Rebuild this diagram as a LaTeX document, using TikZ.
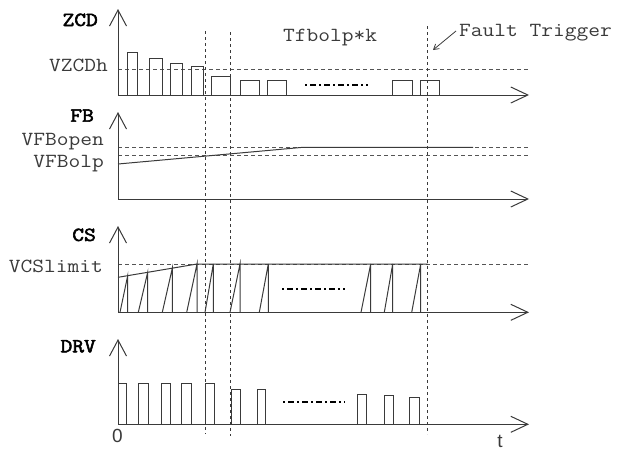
\documentclass[tikz,border=0pt]{standalone}
\usepackage{fontspec}
\newfontfamily\sansf{Liberation Sans}
\newfontfamily\ttheavy{Latin Modern Mono}[FakeBold=2.5]
\usetikzlibrary{arrows.meta}
\definecolor{ink}{HTML}{3A3A3A}
\definecolor{refc}{HTML}{555555}
\newcommand{\widetxt}[1]{\scalebox{1.14}[1]{#1}}
\tikzset{
  axisline/.style={line width=1pt, draw=ink, {Straight Barb[length=16pt,width=17pt,line width=1pt]}-{Straight Barb[length=17pt,width=16pt,line width=1pt]}},
  wave/.style={line width=1pt, draw=ink, line join=miter},
  refline/.style={line width=0.9pt, draw=refc, dash pattern=on 4pt off 3pt},
  vline/.style={line width=1.2pt, draw=ink, dash pattern=on 3pt off 3pt},
  dotline/.style={line width=2pt, draw=black, dash pattern=on 2pt off 3pt on 6pt off 3pt},
  lbl/.style={inner sep=0pt, font=\ttfamily\fontsize{20}{24}\selectfont, text=ink},
  blbl/.style={inner sep=0pt, font=\ttheavy\fontsize{20}{24}\selectfont, text=black},
  slbl/.style={inner sep=0pt, font=\sansf\fontsize{19}{22}\selectfont, text=ink},
}
\begin{document}
\begin{tikzpicture}[x=1pt,y=-1pt]
\useasboundingbox (0,0) rectangle (617,450);

% ---- axes coordinates
\coordinate (zy) at (118,9);   \coordinate (zo) at (118,95);  \coordinate (zx) at (529,95);
\coordinate (fy) at (118,112); \coordinate (fo) at (118,199); \coordinate (fx) at (529,199);
\coordinate (cy) at (118,226); \coordinate (co) at (118,312.3); \coordinate (cx) at (529,312.3);
\coordinate (dy) at (118,339); \coordinate (do) at (118,424.3); \coordinate (dx) at (529,424.3);

% ---- reference (dashed) lines
\coordinate (zh1) at (118,69);    \coordinate (zh2) at (530,69);
\coordinate (fo1) at (118,147.3); \coordinate (fo2) at (530,147.3);
\coordinate (fl1) at (118,155.7); \coordinate (fl2) at (530,155.7);
\coordinate (cl1) at (118,264);   \coordinate (cl2) at (530,264);
\draw[refline] (zh1) -- (zh2);
\draw[refline] (fo1) -- (fo2);
\draw[refline] (fl1) -- (fl2);
\draw[refline] (cl1) -- (cl2);

% ---- vertical dotted time markers
\coordinate (v1t) at (205.7,31); \coordinate (v1b) at (205.7,434);
\coordinate (v2t) at (230.7,32); \coordinate (v2b) at (230.7,436);
\coordinate (v3t) at (427.7,26); \coordinate (v3b) at (427.7,434);
\draw[vline] (v1t) -- (v1b);
\draw[vline] (v2t) -- (v2b);
\draw[vline] (v3t) -- (v3b);

% ---- axes
\draw[axisline] (zy) -- (zo) -- (zx);
\draw[axisline] (fy) -- (fo) -- (fx);
\draw[axisline] (cy) -- (co) -- (cx);
\draw[axisline] (dy) -- (do) -- (dx);

% ---- ZCD pulses
\foreach \a/\b/\t in {127.7/137.7/52.7, 149/162.3/58.3, 170/182.3/63.3, 191.7/203.3/66.7,
  211.7/230.7/76, 240/259.3/80.7, 267.7/286.7/80.7, 392.7/412.3/80.7, 420.7/439.3/80.7}
  \draw[wave] (\a,95) -- (\a,\t) -- (\b,\t) -- (\b,95);
\coordinate (zd1) at (305,85); \coordinate (zd2) at (368,85);
\draw[dotline] (zd1) -- (zd2);

% ---- FB curve
\coordinate (fb0) at (118,164); \coordinate (fb1) at (303,147.3); \coordinate (fb2) at (473,147.3);
\draw[wave] (fb0) -- (fb1) -- (fb2);

% ---- CS envelope and ramps
\coordinate (cs0) at (118,277.3); \coordinate (cs1) at (197,264); \coordinate (cs2) at (427.7,264);
\draw[wave] (cs0) -- (cs1) -- (cs2);
\foreach \a/\b/\t in {120/127.7/275.7, 138.3/147.7/272.3, 162.3/172.3/268.2, 186.7/197/264,
  205/213.3/264, 230/240/264, 259.3/268.3/264, 361/370.7/264, 384.3/392.7/264, 411.7/420.7/264}
  \draw[wave] (\a,312.3) -- (\b,\t) -- (\b,312.3);
\coordinate (cd1) at (282,289); \coordinate (cd2) at (345,289);
\draw[dotline] (cd1) -- (cd2);

% ---- DRV pulses
\foreach \a/\b/\t in {118.3/126.7/383.3, 138.3/148.3/383.3, 161.7/170.7/383.3, 181.7/191.7/383.3,
  205/214/383.3, 231/240/389, 257.3/265.7/389, 357.7/366.7/394, 384/393.3/395.3, 409.3/419.3/397.3}
  \draw[wave] (\a,424.3) -- (\a,\t) -- (\b,\t) -- (\b,424.3);
\coordinate (dd1) at (283,402.3); \coordinate (dd2) at (345,402.3);
\draw[dotline] (dd1) -- (dd2);

% ---- labels
\node[blbl, anchor=base east] (lzcd) at (98,26) {\widetxt{ZCD}};
\node[lbl, anchor=base east] (lvzcdh) at (108,71.7) {\widetxt{VZCDh}};
\node[blbl, anchor=base east] (lfb) at (94,121.7) {\widetxt{FB}};
\node[lbl, anchor=base east] (lvfbopen) at (104,145) {\widetxt{VFBopen}};
\node[lbl, anchor=base east] (lvfbolp) at (104,167.3) {\widetxt{VFBolp}};
\node[blbl, anchor=base east] (lcs) at (96,241) {\widetxt{CS}};
\node[lbl, anchor=base east] (lvcs) at (103,272.3) {\widetxt{VCSlimit}};
\node[blbl, anchor=base east] (ldrv) at (96,352.3) {\widetxt{DRV}};
\node[lbl, anchor=base west] (ltf) at (283,41.5) {\widetxt{Tfbolp*k}};
\node[lbl, anchor=base west] (lfault) at (459,36) {\widetxt{Fault Trigger}};
\node[slbl, anchor=base] (lzero) at (117.5,442) {0};
\node[slbl, anchor=base] (lt) at (500,447) {t};

% ---- fault trigger arrow
\coordinate (fa) at (456,31); \coordinate (fh) at (433,50);
\draw[line width=0.8pt, draw=ink, -{Straight Barb[length=5pt,width=6pt]}] (fa) -- (fh);
\end{tikzpicture}
\end{document}
